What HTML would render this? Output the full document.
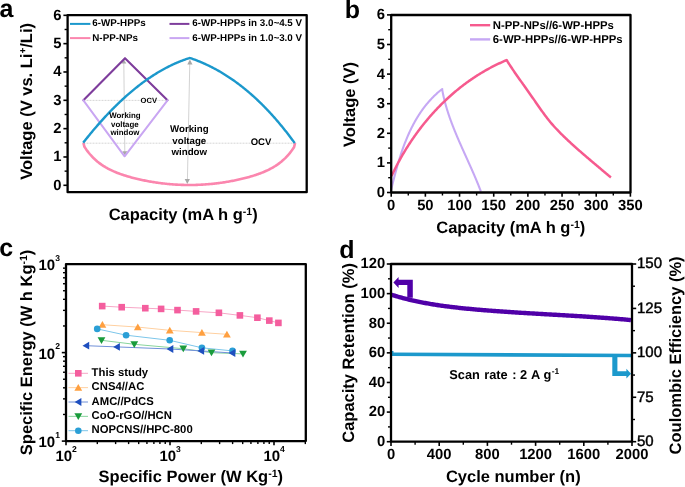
<!DOCTYPE html>
<html><head><meta charset="utf-8"><style>
html,body{margin:0;padding:0;background:#fff;width:685px;height:487px;overflow:hidden;}
svg{display:block;}
text{text-rendering:geometricPrecision;font-family:"Liberation Sans", sans-serif;}
</style></head><body><div style="will-change:transform;width:685px;height:487px;">
<svg width="685" height="487" viewBox="0 0 685 487"><text x="-0.50" y="16.70" font-family="&quot;Liberation Sans&quot;, sans-serif" font-weight="bold" font-size="25" text-anchor="start" fill="#000" >a</text>
<text x="344.80" y="18.20" font-family="&quot;Liberation Sans&quot;, sans-serif" font-weight="bold" font-size="25" text-anchor="start" fill="#000" >b</text>
<text x="-0.80" y="256.20" font-family="&quot;Liberation Sans&quot;, sans-serif" font-weight="bold" font-size="25" text-anchor="start" fill="#000" >c</text>
<text x="339.20" y="258.00" font-family="&quot;Liberation Sans&quot;, sans-serif" font-weight="bold" font-size="25" text-anchor="start" fill="#000" >d</text>
<line x1="63.40" y1="185.30" x2="67.60" y2="185.30" stroke="#000" stroke-width="1.6" />
<text x="61.40" y="189.60" font-family="&quot;Liberation Sans&quot;, sans-serif" font-weight="bold" font-size="14.8" text-anchor="end" fill="#000" >0</text>
<line x1="64.60" y1="171.14" x2="67.60" y2="171.14" stroke="#000" stroke-width="1.4" />
<line x1="63.40" y1="156.97" x2="67.60" y2="156.97" stroke="#000" stroke-width="1.6" />
<text x="61.40" y="161.27" font-family="&quot;Liberation Sans&quot;, sans-serif" font-weight="bold" font-size="14.8" text-anchor="end" fill="#000" >1</text>
<line x1="64.60" y1="142.81" x2="67.60" y2="142.81" stroke="#000" stroke-width="1.4" />
<line x1="63.40" y1="128.64" x2="67.60" y2="128.64" stroke="#000" stroke-width="1.6" />
<text x="61.40" y="132.94" font-family="&quot;Liberation Sans&quot;, sans-serif" font-weight="bold" font-size="14.8" text-anchor="end" fill="#000" >2</text>
<line x1="64.60" y1="114.48" x2="67.60" y2="114.48" stroke="#000" stroke-width="1.4" />
<line x1="63.40" y1="100.31" x2="67.60" y2="100.31" stroke="#000" stroke-width="1.6" />
<text x="61.40" y="104.61" font-family="&quot;Liberation Sans&quot;, sans-serif" font-weight="bold" font-size="14.8" text-anchor="end" fill="#000" >3</text>
<line x1="64.60" y1="86.15" x2="67.60" y2="86.15" stroke="#000" stroke-width="1.4" />
<line x1="63.40" y1="71.98" x2="67.60" y2="71.98" stroke="#000" stroke-width="1.6" />
<text x="61.40" y="76.28" font-family="&quot;Liberation Sans&quot;, sans-serif" font-weight="bold" font-size="14.8" text-anchor="end" fill="#000" >4</text>
<line x1="64.60" y1="57.82" x2="67.60" y2="57.82" stroke="#000" stroke-width="1.4" />
<line x1="63.40" y1="43.65" x2="67.60" y2="43.65" stroke="#000" stroke-width="1.6" />
<text x="61.40" y="47.95" font-family="&quot;Liberation Sans&quot;, sans-serif" font-weight="bold" font-size="14.8" text-anchor="end" fill="#000" >5</text>
<line x1="64.60" y1="29.49" x2="67.60" y2="29.49" stroke="#000" stroke-width="1.4" />
<line x1="63.40" y1="15.32" x2="67.60" y2="15.32" stroke="#000" stroke-width="1.6" />
<text x="61.40" y="19.62" font-family="&quot;Liberation Sans&quot;, sans-serif" font-weight="bold" font-size="14.8" text-anchor="end" fill="#000" >6</text>
<line x1="83.50" y1="100.40" x2="167.50" y2="100.40" stroke="#d0d0d0" stroke-width="0.9" stroke-dasharray="2,1"/>
<line x1="83.50" y1="143.20" x2="295.00" y2="143.20" stroke="#d0d0d0" stroke-width="0.9" stroke-dasharray="2,1"/>
<line x1="123.80" y1="62.00" x2="124.80" y2="152.00" stroke="#cdcdcd" stroke-width="0.9" />
<path d="M123.8,59.6 L121.3,63.6 L126.3,63.6 Z" fill="#a8a8a8"/>
<path d="M124.8,155.5 L122.3,151.3 L127.3,151.3 Z" fill="#a8a8a8"/>
<line x1="189.80" y1="62.00" x2="187.40" y2="181.00" stroke="#cdcdcd" stroke-width="0.9" />
<path d="M189.9,59.6 L187.3,64.6 L192.5,64.6 Z" fill="#a8a8a8"/>
<path d="M187.3,184 L184.7,179 L189.9,179 Z" fill="#a8a8a8"/>
<polyline points="83.40,100.30 125.00,58.20 167.50,100.30" fill="none" stroke="#7e3d9c" stroke-width="2.1" stroke-linejoin="round" stroke-linecap="round" />
<polyline points="83.40,100.30 124.60,156.30 167.50,100.30" fill="none" stroke="#c9a6f2" stroke-width="2.0" stroke-linejoin="round" stroke-linecap="round" />
<path d="M83.40,142.90 L84.46,146.80 L85.53,148.40 L86.59,149.92 L87.66,151.35 L88.72,152.72 L89.78,154.01 L90.85,155.24 L91.91,156.40 L92.97,157.51 L94.04,158.57 L95.10,159.57 L96.17,160.52 L97.23,161.43 L98.29,162.30 L99.36,163.12 L100.42,163.91 L101.48,164.67 L102.55,165.39 L103.61,166.07 L104.68,166.73 L105.74,167.37 L106.80,167.97 L107.87,168.55 L108.93,169.11 L110.00,169.65 L111.06,170.17 L112.12,170.67 L113.19,171.15 L114.25,171.61 L115.31,172.06 L116.38,172.50 L117.44,172.92 L118.51,173.32 L119.57,173.72 L120.63,174.10 L121.70,174.47 L122.76,174.83 L123.83,175.18 L124.89,175.52 L125.95,175.86 L127.02,176.18 L128.08,176.50 L129.14,176.80 L130.21,177.10 L131.27,177.39 L132.34,177.68 L133.40,177.96 L134.46,178.23 L135.53,178.50 L136.59,178.75 L137.65,179.01 L138.72,179.25 L139.78,179.50 L140.85,179.73 L141.91,179.96 L142.97,180.19 L144.04,180.40 L145.10,180.62 L146.17,180.83 L147.23,181.03 L148.29,181.23 L149.36,181.42 L150.42,181.61 L151.48,181.79 L152.55,181.97 L153.61,182.14 L154.68,182.31 L155.74,182.47 L156.80,182.62 L157.87,182.78 L158.93,182.92 L159.99,183.07 L161.06,183.20 L162.12,183.34 L163.19,183.46 L164.25,183.58 L165.31,183.70 L166.38,183.81 L167.44,183.92 L168.51,184.02 L169.57,184.12 L170.63,184.21 L171.70,184.30 L172.76,184.38 L173.82,184.46 L174.89,184.53 L175.95,184.59 L177.02,184.66 L178.08,184.71 L179.14,184.76 L180.21,184.81 L181.27,184.85 L182.34,184.89 L183.40,184.92 L184.46,184.95 L185.53,184.97 L186.59,184.98 L187.65,184.99 L188.72,185.00 L189.78,185.00 L190.85,185.00 L191.91,184.99 L192.97,184.97 L194.04,184.95 L195.10,184.93 L196.16,184.90 L197.23,184.86 L198.29,184.82 L199.36,184.78 L200.42,184.73 L201.48,184.67 L202.55,184.61 L203.61,184.55 L204.68,184.48 L205.74,184.40 L206.80,184.32 L207.87,184.24 L208.93,184.15 L209.99,184.05 L211.06,183.95 L212.12,183.84 L213.19,183.73 L214.25,183.62 L215.31,183.50 L216.38,183.37 L217.44,183.24 L218.51,183.11 L219.57,182.96 L220.63,182.82 L221.70,182.67 L222.76,182.51 L223.82,182.35 L224.89,182.19 L225.95,182.02 L227.02,181.84 L228.08,181.66 L229.14,181.47 L230.21,181.28 L231.27,181.09 L232.33,180.88 L233.40,180.68 L234.46,180.46 L235.53,180.25 L236.59,180.02 L237.65,179.80 L238.72,179.56 L239.78,179.32 L240.85,179.08 L241.91,178.83 L242.97,178.57 L244.04,178.31 L245.10,178.04 L246.16,177.76 L247.23,177.48 L248.29,177.19 L249.36,176.89 L250.42,176.58 L251.48,176.27 L252.55,175.95 L253.61,175.62 L254.67,175.28 L255.74,174.93 L256.80,174.57 L257.87,174.21 L258.93,173.83 L259.99,173.44 L261.06,173.03 L262.12,172.62 L263.19,172.19 L264.25,171.74 L265.31,171.28 L266.38,170.80 L267.44,170.31 L268.50,169.80 L269.57,169.27 L270.63,168.71 L271.70,168.14 L272.76,167.54 L273.82,166.91 L274.89,166.26 L275.95,165.58 L277.02,164.87 L278.08,164.13 L279.14,163.35 L280.21,162.53 L281.27,161.68 L282.33,160.78 L283.40,159.84 L284.46,158.85 L285.53,157.81 L286.59,156.72 L287.65,155.57 L288.72,154.36 L289.78,153.09 L290.84,151.74 L291.91,150.33 L292.97,148.84 L294.04,147.26 L295.10,142.90" fill="none" stroke="#fb86ae" stroke-width="2.6" stroke-linejoin="round"/>
<path d="M83.20,142.74 L84.09,141.60 L84.99,140.47 L85.88,139.35 L86.77,138.23 L87.67,137.12 L88.56,136.01 L89.45,134.92 L90.35,133.83 L91.24,132.75 L92.13,131.67 L93.03,130.60 L93.92,129.54 L94.81,128.49 L95.71,127.45 L96.60,126.41 L97.49,125.38 L98.39,124.35 L99.28,123.34 L100.17,122.33 L101.07,121.33 L101.96,120.33 L102.85,119.34 L103.75,118.36 L104.64,117.39 L105.53,116.42 L106.43,115.47 L107.32,114.51 L108.21,113.57 L109.11,112.63 L110.00,111.70 L110.89,110.78 L111.78,109.87 L112.68,108.96 L113.57,108.06 L114.46,107.17 L115.36,106.28 L116.25,105.40 L117.14,104.53 L118.04,103.67 L118.93,102.81 L119.82,101.96 L120.72,101.12 L121.61,100.28 L122.50,99.45 L123.40,98.63 L124.29,97.82 L125.18,97.01 L126.08,96.21 L126.97,95.42 L127.86,94.64 L128.76,93.86 L129.65,93.09 L130.54,92.33 L131.44,91.57 L132.33,90.83 L133.22,90.08 L134.12,89.35 L135.01,88.62 L135.90,87.91 L136.80,87.19 L137.69,86.49 L138.58,85.79 L139.48,85.10 L140.37,84.42 L141.26,83.74 L142.16,83.07 L143.05,82.41 L143.94,81.76 L144.84,81.11 L145.73,80.47 L146.62,79.84 L147.52,79.22 L148.41,78.60 L149.30,77.99 L150.20,77.39 L151.09,76.79 L151.98,76.20 L152.88,75.62 L153.77,75.05 L154.66,74.48 L155.56,73.92 L156.45,73.37 L157.34,72.82 L158.24,72.29 L159.13,71.75 L160.02,71.23 L160.92,70.72 L161.81,70.21 L162.70,69.71 L163.59,69.21 L164.49,68.72 L165.38,68.24 L166.27,67.77 L167.17,67.31 L168.06,66.85 L168.95,66.40 L169.85,65.95 L170.74,65.52 L171.63,65.09 L172.53,64.67 L173.42,64.25 L174.31,63.85 L175.21,63.45 L176.10,63.05 L176.99,62.67 L177.89,62.29 L178.78,61.92 L179.67,61.56 L180.57,61.20 L181.46,60.85 L182.35,60.51 L183.25,60.17 L184.14,59.85 L185.03,59.53 L185.93,59.21 L186.82,58.91 L187.71,58.61 L188.61,58.32 L189.50,58.03 L190.29,58.09 L191.18,58.39 L192.07,58.70 L192.95,59.02 L193.83,59.34 L194.71,59.66 L195.58,59.99 L196.46,60.33 L197.33,60.67 L198.19,61.01 L199.06,61.36 L199.92,61.72 L200.78,62.07 L201.63,62.44 L202.49,62.81 L203.34,63.18 L204.19,63.56 L205.03,63.94 L205.88,64.33 L206.72,64.72 L207.56,65.11 L208.39,65.51 L209.22,65.92 L210.05,66.33 L210.88,66.74 L211.71,67.16 L212.53,67.58 L213.35,68.01 L214.17,68.44 L214.98,68.88 L215.79,69.32 L216.60,69.76 L217.41,70.21 L218.21,70.66 L219.01,71.12 L219.81,71.58 L220.61,72.04 L221.40,72.51 L222.19,72.98 L222.98,73.46 L223.77,73.94 L224.55,74.43 L225.33,74.92 L226.11,75.41 L226.89,75.91 L227.66,76.41 L228.43,76.91 L229.20,77.42 L229.97,77.93 L230.73,78.44 L231.49,78.96 L232.25,79.49 L233.01,80.01 L233.76,80.54 L234.51,81.08 L235.26,81.61 L236.01,82.15 L236.75,82.70 L237.49,83.24 L238.23,83.80 L238.97,84.35 L239.70,84.91 L240.43,85.47 L241.16,86.03 L241.89,86.60 L242.61,87.17 L243.34,87.75 L244.06,88.32 L244.77,88.90 L245.49,89.49 L246.20,90.07 L246.91,90.66 L247.62,91.26 L248.32,91.85 L249.02,92.45 L249.72,93.05 L250.42,93.66 L251.12,94.27 L251.81,94.88 L252.50,95.49 L253.19,96.11 L253.88,96.73 L254.56,97.35 L255.24,97.97 L255.92,98.60 L256.60,99.23 L257.27,99.87 L257.95,100.50 L258.62,101.14 L259.28,101.78 L259.95,102.42 L260.61,103.07 L261.27,103.72 L261.93,104.37 L262.59,105.02 L263.24,105.68 L263.89,106.33 L264.54,107.00 L265.19,107.66 L265.83,108.32 L266.48,108.99 L267.12,109.66 L267.75,110.33 L268.39,111.01 L269.02,111.68 L269.66,112.36 L270.28,113.04 L270.91,113.72 L271.54,114.41 L272.16,115.09 L272.78,115.78 L273.40,116.47 L274.01,117.16 L274.63,117.86 L275.24,118.55 L275.85,119.25 L276.45,119.95 L277.06,120.65 L277.66,121.36 L278.26,122.06 L278.86,122.77 L279.46,123.48 L280.05,124.19 L280.64,124.90 L281.23,125.61 L281.82,126.33 L282.41,127.04 L282.99,127.76 L283.57,128.48 L284.15,129.20 L284.73,129.92 L285.30,130.65 L285.88,131.37 L286.45,132.10 L287.02,132.82 L287.58,133.55 L288.15,134.28 L288.71,135.01 L289.27,135.75 L289.83,136.48 L290.38,137.21 L290.94,137.95 L291.49,138.69 L292.04,139.43 L292.59,140.16 L293.14,140.90 L293.68,141.65 L294.22,142.39 L294.76,143.13" fill="none" stroke="#1b98cc" stroke-width="2.4" stroke-linejoin="round"/>
<text x="148.80" y="102.80" font-family="&quot;Liberation Sans&quot;, sans-serif" font-weight="bold" font-size="7.6" text-anchor="middle" fill="#000" >OCV</text>
<text x="124.90" y="117.80" font-family="&quot;Liberation Sans&quot;, sans-serif" font-weight="bold" font-size="7.9" text-anchor="middle" fill="#000" >Working</text>
<text x="124.90" y="126.60" font-family="&quot;Liberation Sans&quot;, sans-serif" font-weight="bold" font-size="7.9" text-anchor="middle" fill="#000" >voltage</text>
<text x="124.90" y="135.20" font-family="&quot;Liberation Sans&quot;, sans-serif" font-weight="bold" font-size="7.9" text-anchor="middle" fill="#000" >window</text>
<text x="189.30" y="131.80" font-family="&quot;Liberation Sans&quot;, sans-serif" font-weight="bold" font-size="9.7" text-anchor="middle" fill="#000" >Working</text>
<text x="189.30" y="143.50" font-family="&quot;Liberation Sans&quot;, sans-serif" font-weight="bold" font-size="9.7" text-anchor="middle" fill="#000" >voltage</text>
<text x="189.30" y="155.20" font-family="&quot;Liberation Sans&quot;, sans-serif" font-weight="bold" font-size="9.7" text-anchor="middle" fill="#000" >window</text>
<text x="261.00" y="145.40" font-family="&quot;Liberation Sans&quot;, sans-serif" font-weight="bold" font-size="9.5" text-anchor="middle" fill="#000" >OCV</text>
<line x1="70.00" y1="23.90" x2="90.40" y2="23.90" stroke="#1b98cc" stroke-width="2" />
<text x="92.30" y="26.20" font-family="&quot;Liberation Sans&quot;, sans-serif" font-weight="bold" font-size="9.8" text-anchor="start" fill="#000" >6-WP-HPPs</text>
<line x1="70.00" y1="38.10" x2="90.40" y2="38.10" stroke="#fb86ae" stroke-width="2" />
<text x="92.30" y="40.90" font-family="&quot;Liberation Sans&quot;, sans-serif" font-weight="bold" font-size="9.8" text-anchor="start" fill="#000" >N-PP-NPs</text>
<line x1="169.50" y1="23.90" x2="189.40" y2="23.90" stroke="#7e3d9c" stroke-width="2" />
<text x="192.30" y="26.20" font-family="&quot;Liberation Sans&quot;, sans-serif" font-weight="bold" font-size="9.8" text-anchor="start" fill="#000" >6-WP-HPPs in 3.0~4.5 V</text>
<line x1="169.50" y1="38.10" x2="189.40" y2="38.10" stroke="#c9a6f2" stroke-width="2" />
<text x="192.30" y="40.90" font-family="&quot;Liberation Sans&quot;, sans-serif" font-weight="bold" font-size="9.8" text-anchor="start" fill="#000" >6-WP-HPPs in 1.0~3.0 V</text>
<rect x="67.60" y="15.10" width="239.10" height="177.10" fill="none" stroke="#000" stroke-width="2.3" stroke-linejoin="round"/>
<text x="183.20" y="220.30" font-family="&quot;Liberation Sans&quot;, sans-serif" font-weight="bold" font-size="16.5" text-anchor="middle" fill="#000" >Capacity (mA h g<tspan dy="-5.5" font-size="10.5">-1</tspan><tspan dy="5.5">)</tspan></text>
<text transform="translate(31.8,101.4) rotate(-90)" font-family="&quot;Liberation Sans&quot;, sans-serif" font-weight="bold" font-size="16.5" text-anchor="middle">Voltage (V vs. Li<tspan dy="-6" font-size="10">+</tspan><tspan dy="6">/Li)</tspan></text>
<line x1="387.00" y1="192.50" x2="391.20" y2="192.50" stroke="#000" stroke-width="1.6" />
<text x="385.00" y="196.90" font-family="&quot;Liberation Sans&quot;, sans-serif" font-weight="bold" font-size="14.8" text-anchor="end" fill="#000" >0</text>
<line x1="388.20" y1="177.70" x2="391.20" y2="177.70" stroke="#000" stroke-width="1.4" />
<line x1="387.00" y1="162.90" x2="391.20" y2="162.90" stroke="#000" stroke-width="1.6" />
<text x="385.00" y="167.30" font-family="&quot;Liberation Sans&quot;, sans-serif" font-weight="bold" font-size="14.8" text-anchor="end" fill="#000" >1</text>
<line x1="388.20" y1="148.10" x2="391.20" y2="148.10" stroke="#000" stroke-width="1.4" />
<line x1="387.00" y1="133.30" x2="391.20" y2="133.30" stroke="#000" stroke-width="1.6" />
<text x="385.00" y="137.70" font-family="&quot;Liberation Sans&quot;, sans-serif" font-weight="bold" font-size="14.8" text-anchor="end" fill="#000" >2</text>
<line x1="388.20" y1="118.50" x2="391.20" y2="118.50" stroke="#000" stroke-width="1.4" />
<line x1="387.00" y1="103.70" x2="391.20" y2="103.70" stroke="#000" stroke-width="1.6" />
<text x="385.00" y="108.10" font-family="&quot;Liberation Sans&quot;, sans-serif" font-weight="bold" font-size="14.8" text-anchor="end" fill="#000" >3</text>
<line x1="388.20" y1="88.90" x2="391.20" y2="88.90" stroke="#000" stroke-width="1.4" />
<line x1="387.00" y1="74.10" x2="391.20" y2="74.10" stroke="#000" stroke-width="1.6" />
<text x="385.00" y="78.50" font-family="&quot;Liberation Sans&quot;, sans-serif" font-weight="bold" font-size="14.8" text-anchor="end" fill="#000" >4</text>
<line x1="388.20" y1="59.30" x2="391.20" y2="59.30" stroke="#000" stroke-width="1.4" />
<line x1="387.00" y1="44.50" x2="391.20" y2="44.50" stroke="#000" stroke-width="1.6" />
<text x="385.00" y="48.90" font-family="&quot;Liberation Sans&quot;, sans-serif" font-weight="bold" font-size="14.8" text-anchor="end" fill="#000" >5</text>
<line x1="388.20" y1="29.70" x2="391.20" y2="29.70" stroke="#000" stroke-width="1.4" />
<line x1="387.00" y1="14.90" x2="391.20" y2="14.90" stroke="#000" stroke-width="1.6" />
<text x="385.00" y="19.30" font-family="&quot;Liberation Sans&quot;, sans-serif" font-weight="bold" font-size="14.8" text-anchor="end" fill="#000" >6</text>
<line x1="391.20" y1="192.50" x2="391.20" y2="196.70" stroke="#000" stroke-width="1.6" />
<text x="391.20" y="210.30" font-family="&quot;Liberation Sans&quot;, sans-serif" font-weight="bold" font-size="14.8" text-anchor="middle" fill="#000" >0</text>
<line x1="408.28" y1="192.50" x2="408.28" y2="195.50" stroke="#000" stroke-width="1.4" />
<line x1="425.37" y1="192.50" x2="425.37" y2="196.70" stroke="#000" stroke-width="1.6" />
<text x="425.37" y="210.30" font-family="&quot;Liberation Sans&quot;, sans-serif" font-weight="bold" font-size="14.8" text-anchor="middle" fill="#000" >50</text>
<line x1="442.45" y1="192.50" x2="442.45" y2="195.50" stroke="#000" stroke-width="1.4" />
<line x1="459.54" y1="192.50" x2="459.54" y2="196.70" stroke="#000" stroke-width="1.6" />
<text x="459.54" y="210.30" font-family="&quot;Liberation Sans&quot;, sans-serif" font-weight="bold" font-size="14.8" text-anchor="middle" fill="#000" >100</text>
<line x1="476.62" y1="192.50" x2="476.62" y2="195.50" stroke="#000" stroke-width="1.4" />
<line x1="493.71" y1="192.50" x2="493.71" y2="196.70" stroke="#000" stroke-width="1.6" />
<text x="493.71" y="210.30" font-family="&quot;Liberation Sans&quot;, sans-serif" font-weight="bold" font-size="14.8" text-anchor="middle" fill="#000" >150</text>
<line x1="510.79" y1="192.50" x2="510.79" y2="195.50" stroke="#000" stroke-width="1.4" />
<line x1="527.88" y1="192.50" x2="527.88" y2="196.70" stroke="#000" stroke-width="1.6" />
<text x="527.88" y="210.30" font-family="&quot;Liberation Sans&quot;, sans-serif" font-weight="bold" font-size="14.8" text-anchor="middle" fill="#000" >200</text>
<line x1="544.97" y1="192.50" x2="544.97" y2="195.50" stroke="#000" stroke-width="1.4" />
<line x1="562.05" y1="192.50" x2="562.05" y2="196.70" stroke="#000" stroke-width="1.6" />
<text x="562.05" y="210.30" font-family="&quot;Liberation Sans&quot;, sans-serif" font-weight="bold" font-size="14.8" text-anchor="middle" fill="#000" >250</text>
<line x1="579.13" y1="192.50" x2="579.13" y2="195.50" stroke="#000" stroke-width="1.4" />
<line x1="596.22" y1="192.50" x2="596.22" y2="196.70" stroke="#000" stroke-width="1.6" />
<text x="596.22" y="210.30" font-family="&quot;Liberation Sans&quot;, sans-serif" font-weight="bold" font-size="14.8" text-anchor="middle" fill="#000" >300</text>
<line x1="613.30" y1="192.50" x2="613.30" y2="195.50" stroke="#000" stroke-width="1.4" />
<line x1="630.39" y1="192.50" x2="630.39" y2="196.70" stroke="#000" stroke-width="1.6" />
<text x="630.39" y="210.30" font-family="&quot;Liberation Sans&quot;, sans-serif" font-weight="bold" font-size="14.8" text-anchor="middle" fill="#000" >350</text>
<path d="M390.66,191.76 L390.84,191.02 L391.02,190.28 L391.20,189.53 L391.38,188.78 L391.56,188.04 L391.74,187.29 L391.93,186.54 L392.11,185.79 L392.29,185.04 L392.48,184.28 L392.67,183.53 L392.85,182.78 L393.04,182.02 L393.23,181.27 L393.42,180.51 L393.61,179.76 L393.81,179.00 L394.00,178.24 L394.19,177.48 L394.39,176.72 L394.59,175.97 L394.79,175.21 L394.99,174.45 L395.19,173.69 L395.39,172.93 L395.60,172.17 L395.80,171.41 L396.01,170.64 L396.22,169.88 L396.43,169.12 L396.64,168.36 L396.85,167.60 L397.07,166.84 L397.28,166.08 L397.50,165.32 L397.72,164.56 L397.94,163.80 L398.17,163.04 L398.39,162.28 L398.62,161.52 L398.85,160.76 L399.08,160.00 L399.31,159.24 L399.55,158.48 L399.79,157.73 L400.03,156.97 L400.27,156.21 L400.51,155.46 L400.76,154.70 L401.01,153.95 L401.26,153.19 L401.51,152.44 L401.76,151.69 L402.02,150.94 L402.28,150.19 L402.54,149.44 L402.81,148.69 L403.08,147.94 L403.35,147.19 L403.62,146.45 L403.89,145.70 L404.17,144.96 L404.45,144.22 L404.73,143.48 L405.02,142.74 L405.31,142.00 L405.60,141.26 L405.89,140.53 L406.19,139.79 L406.49,139.06 L406.79,138.33 L407.10,137.60 L407.41,136.87 L407.72,136.15 L408.03,135.42 L408.35,134.70 L408.67,133.98 L409.00,133.26 L409.32,132.54 L409.65,131.82 L409.99,131.11 L410.32,130.40 L410.66,129.69 L411.01,128.98 L411.36,128.27 L411.71,127.57 L412.06,126.86 L412.42,126.16 L412.78,125.47 L413.14,124.77 L413.51,124.08 L413.89,123.38 L414.26,122.70 L414.64,122.01 L415.02,121.33 L415.41,120.64 L415.80,119.96 L416.20,119.29 L416.60,118.61 L417.00,117.94 L417.40,117.27 L417.81,116.61 L418.23,115.94 L418.65,115.28 L419.07,114.62 L419.50,113.97 L419.93,113.32 L420.36,112.67 L420.80,112.02 L421.25,111.38 L421.69,110.74 L422.15,110.10 L422.60,109.46 L423.06,108.83 L423.53,108.20 L424.00,107.58 L424.47,106.96 L424.95,106.34 L425.43,105.72 L425.92,105.11 L426.41,104.50 L426.91,103.90 L427.41,103.30 L427.92,102.70 L428.43,102.10 L428.95,101.51 L429.47,100.93 L429.99,100.34 L430.53,99.76 L431.06,99.18 L431.60,98.61 L432.15,98.04 L432.70,97.48 L433.25,96.92 L433.81,96.36 L434.38,95.81 L434.95,95.26 L435.53,94.71 L436.11,94.17 L436.70,93.64 L437.29,93.10 L437.89,92.57 L438.49,92.05 L439.10,91.53 L439.71,91.01 L440.33,90.50 L440.96,89.99 L441.59,89.49 L442.22,88.99 L442.25,89.95 L442.38,90.67 L442.52,91.40 L442.66,92.12 L442.80,92.84 L442.95,93.56 L443.10,94.28 L443.25,95.00 L443.40,95.72 L443.56,96.43 L443.73,97.15 L443.89,97.86 L444.06,98.58 L444.23,99.29 L444.41,100.00 L444.59,100.71 L444.77,101.42 L444.95,102.13 L445.14,102.84 L445.33,103.55 L445.52,104.25 L445.72,104.96 L445.92,105.66 L446.12,106.37 L446.32,107.07 L446.53,107.77 L446.74,108.48 L446.95,109.18 L447.17,109.88 L447.39,110.58 L447.61,111.28 L447.83,111.98 L448.05,112.67 L448.28,113.37 L448.51,114.07 L448.74,114.76 L448.98,115.46 L449.22,116.15 L449.45,116.84 L449.70,117.54 L449.94,118.23 L450.18,118.92 L450.43,119.61 L450.68,120.30 L450.93,120.99 L451.19,121.68 L451.44,122.37 L451.70,123.06 L451.96,123.75 L452.22,124.43 L452.48,125.12 L452.75,125.81 L453.01,126.49 L453.28,127.18 L453.55,127.86 L453.82,128.54 L454.09,129.23 L454.37,129.91 L454.64,130.59 L454.92,131.28 L455.20,131.96 L455.48,132.64 L455.76,133.32 L456.04,134.00 L456.33,134.68 L456.61,135.36 L456.90,136.04 L457.19,136.72 L457.48,137.40 L457.77,138.08 L458.06,138.76 L458.35,139.43 L458.64,140.11 L458.93,140.79 L459.23,141.47 L459.52,142.14 L459.82,142.82 L460.12,143.50 L460.42,144.17 L460.71,144.85 L461.01,145.52 L461.31,146.20 L461.61,146.87 L461.91,147.55 L462.21,148.22 L462.52,148.90 L462.82,149.57 L463.12,150.25 L463.42,150.92 L463.73,151.60 L464.03,152.27 L464.34,152.94 L464.64,153.62 L464.94,154.29 L465.25,154.97 L465.55,155.64 L465.86,156.31 L466.16,156.99 L466.47,157.66 L466.77,158.33 L467.08,159.01 L467.38,159.68 L467.69,160.35 L467.99,161.03 L468.29,161.70 L468.60,162.37 L468.90,163.05 L469.20,163.72 L469.51,164.40 L469.81,165.07 L470.11,165.74 L470.41,166.42 L470.71,167.09 L471.01,167.77 L471.31,168.44 L471.61,169.12 L471.91,169.79 L472.21,170.47 L472.51,171.14 L472.80,171.82 L473.10,172.49 L473.39,173.17 L473.69,173.84 L473.98,174.52 L474.27,175.20 L474.56,175.87 L474.85,176.55 L475.14,177.23 L475.43,177.90 L475.71,178.58 L476.00,179.26 L476.28,179.94 L476.56,180.62 L476.85,181.30 L477.13,181.98 L477.40,182.66 L477.68,183.34 L477.96,184.02 L478.23,184.70 L478.51,185.38 L478.78,186.06 L479.05,186.74 L479.31,187.42 L479.58,188.11 L479.85,188.79 L480.11,189.47 L480.37,190.16 L480.63,190.84 L480.89,191.53" fill="none" stroke="#c6a8f4" stroke-width="2.1" stroke-linejoin="round"/>
<path d="M391.54,175.99 L392.01,174.98 L392.49,173.97 L392.97,172.97 L393.45,171.96 L393.94,170.96 L394.43,169.96 L394.93,168.96 L395.44,167.97 L395.94,166.97 L396.45,165.98 L396.97,164.99 L397.49,164.00 L398.02,163.01 L398.55,162.03 L399.08,161.04 L399.62,160.06 L400.16,159.08 L400.71,158.11 L401.26,157.13 L401.82,156.16 L402.38,155.19 L402.94,154.22 L403.51,153.25 L404.08,152.29 L404.66,151.33 L405.24,150.37 L405.83,149.41 L406.42,148.46 L407.02,147.50 L407.62,146.55 L408.22,145.61 L408.83,144.66 L409.44,143.72 L410.06,142.78 L410.68,141.84 L411.30,140.91 L411.93,139.97 L412.57,139.05 L413.21,138.12 L413.85,137.20 L414.49,136.27 L415.14,135.36 L415.80,134.44 L416.46,133.53 L417.12,132.62 L417.79,131.71 L418.46,130.81 L419.13,129.91 L419.81,129.01 L420.50,128.12 L421.18,127.23 L421.88,126.34 L422.57,125.45 L423.27,124.57 L423.97,123.69 L424.68,122.82 L425.39,121.95 L426.11,121.08 L426.83,120.21 L427.55,119.35 L428.28,118.49 L429.01,117.64 L429.75,116.78 L430.49,115.94 L431.23,115.09 L431.98,114.25 L432.73,113.41 L433.49,112.58 L434.25,111.75 L435.01,110.92 L435.78,110.10 L436.55,109.28 L437.32,108.47 L438.10,107.66 L438.88,106.85 L439.67,106.05 L440.46,105.25 L441.25,104.45 L442.05,103.66 L442.85,102.87 L443.66,102.09 L444.47,101.31 L445.28,100.54 L446.10,99.77 L446.92,99.00 L447.74,98.24 L448.57,97.48 L449.40,96.72 L450.24,95.97 L451.07,95.23 L451.92,94.49 L452.76,93.75 L453.61,93.02 L454.47,92.29 L455.32,91.57 L456.18,90.85 L457.05,90.14 L457.92,89.43 L458.79,88.72 L459.66,88.02 L460.54,87.33 L461.42,86.63 L462.31,85.95 L463.20,85.27 L464.09,84.59 L464.99,83.92 L465.89,83.25 L466.79,82.59 L467.70,81.93 L468.61,81.28 L469.52,80.64 L470.44,79.99 L471.36,79.36 L472.28,78.73 L473.21,78.10 L474.14,77.48 L475.08,76.86 L476.02,76.25 L476.96,75.64 L477.90,75.04 L478.85,74.45 L479.80,73.86 L480.76,73.28 L481.71,72.70 L482.67,72.12 L483.64,71.55 L484.61,70.99 L485.58,70.44 L486.55,69.88 L487.53,69.34 L488.51,68.80 L489.50,68.26 L490.48,67.74 L491.47,67.21 L492.47,66.69 L493.47,66.18 L494.47,65.68 L495.47,65.18 L496.48,64.68 L497.49,64.20 L498.50,63.71 L499.52,63.24 L500.53,62.77 L501.56,62.30 L502.58,61.85 L503.61,61.39 L504.64,60.95 L505.68,60.51 L506.72,60.08 L507.60,61.68 L508.30,62.76 L508.99,63.83 L509.69,64.90 L510.39,65.96 L511.09,67.01 L511.79,68.06 L512.48,69.10 L513.18,70.14 L513.88,71.17 L514.58,72.19 L515.28,73.21 L515.97,74.21 L516.67,75.21 L517.37,76.21 L518.07,77.20 L518.77,78.18 L519.46,79.17 L520.16,80.15 L520.86,81.13 L521.56,82.12 L522.26,83.10 L522.95,84.09 L523.65,85.08 L524.35,86.07 L525.05,87.06 L525.75,88.05 L526.44,89.03 L527.14,90.02 L527.84,91.00 L528.54,91.99 L529.24,92.97 L529.93,93.96 L530.63,94.95 L531.33,95.93 L532.03,96.92 L532.73,97.91 L533.42,98.91 L534.12,99.90 L534.82,100.91 L535.52,101.92 L536.22,102.93 L536.91,103.95 L537.61,104.96 L538.31,105.98 L539.01,106.99 L539.71,107.99 L540.40,108.98 L541.10,109.96 L541.80,110.93 L542.50,111.88 L543.20,112.83 L543.89,113.78 L544.59,114.72 L545.29,115.66 L545.99,116.58 L546.69,117.50 L547.38,118.41 L548.08,119.31 L548.78,120.20 L549.48,121.07 L550.18,121.93 L550.87,122.77 L551.57,123.59 L552.27,124.40 L552.97,125.19 L553.67,125.98 L554.36,126.74 L555.06,127.50 L555.76,128.25 L556.46,129.00 L557.16,129.73 L557.85,130.46 L558.55,131.19 L559.25,131.91 L559.95,132.62 L560.64,133.32 L561.34,134.02 L562.04,134.71 L562.74,135.39 L563.44,136.08 L564.13,136.75 L564.83,137.43 L565.53,138.10 L566.23,138.76 L566.93,139.43 L567.62,140.09 L568.32,140.74 L569.02,141.39 L569.72,142.04 L570.42,142.68 L571.11,143.32 L571.81,143.96 L572.51,144.59 L573.21,145.22 L573.91,145.85 L574.60,146.48 L575.30,147.10 L576.00,147.72 L576.70,148.34 L577.40,148.96 L578.09,149.58 L578.79,150.20 L579.49,150.82 L580.19,151.43 L580.89,152.04 L581.58,152.64 L582.28,153.25 L582.98,153.85 L583.68,154.46 L584.38,155.06 L585.07,155.66 L585.77,156.25 L586.47,156.85 L587.17,157.45 L587.87,158.05 L588.56,158.64 L589.26,159.24 L589.96,159.83 L590.66,160.43 L591.36,161.02 L592.05,161.61 L592.75,162.20 L593.45,162.79 L594.15,163.38 L594.85,163.96 L595.54,164.55 L596.24,165.14 L596.94,165.72 L597.64,166.31 L598.34,166.90 L599.03,167.49 L599.73,168.07 L600.43,168.66 L601.13,169.25 L601.83,169.84 L602.52,170.43 L603.22,171.02 L603.92,171.61 L604.62,172.20 L605.32,172.79 L606.01,173.38 L606.71,173.97 L607.41,174.55 L608.11,175.14 L608.81,175.73 L609.50,176.32 L610.20,176.91 L610.90,177.50" fill="none" stroke="#f65a8e" stroke-width="2.5" stroke-linejoin="round"/>
<line x1="470.00" y1="25.20" x2="490.20" y2="25.20" stroke="#f65a8e" stroke-width="2.4" />
<text x="492.80" y="29.10" font-family="&quot;Liberation Sans&quot;, sans-serif" font-weight="bold" font-size="11.35" text-anchor="start" fill="#000" >N-PP-NPs//6-WP-HPPs</text>
<line x1="470.00" y1="39.40" x2="490.20" y2="39.40" stroke="#c6a8f4" stroke-width="2.4" />
<text x="492.80" y="43.30" font-family="&quot;Liberation Sans&quot;, sans-serif" font-weight="bold" font-size="11.35" text-anchor="start" fill="#000" >6-WP-HPPs//6-WP-HPPs</text>
<rect x="391.20" y="15.00" width="239.30" height="177.50" fill="none" stroke="#000" stroke-width="2.3" stroke-linejoin="round"/>
<text x="510.79" y="233.00" font-family="&quot;Liberation Sans&quot;, sans-serif" font-weight="bold" font-size="16.5" text-anchor="middle" fill="#000" >Capacity (mA h g<tspan dy="-5.5" font-size="10.5">-1</tspan><tspan dy="5.5">)</tspan></text>
<text transform="translate(355.3,104.5) rotate(-90)" font-family="&quot;Liberation Sans&quot;, sans-serif" font-weight="bold" font-size="16.5" text-anchor="middle">Voltage (V)</text>
<line x1="61.80" y1="441.10" x2="66.00" y2="441.10" stroke="#000" stroke-width="1.6" />
<line x1="63.00" y1="414.46" x2="66.00" y2="414.46" stroke="#000" stroke-width="1.4" />
<line x1="63.00" y1="398.87" x2="66.00" y2="398.87" stroke="#000" stroke-width="1.4" />
<line x1="63.00" y1="387.82" x2="66.00" y2="387.82" stroke="#000" stroke-width="1.4" />
<line x1="63.00" y1="379.24" x2="66.00" y2="379.24" stroke="#000" stroke-width="1.4" />
<line x1="63.00" y1="372.23" x2="66.00" y2="372.23" stroke="#000" stroke-width="1.4" />
<line x1="63.00" y1="366.31" x2="66.00" y2="366.31" stroke="#000" stroke-width="1.4" />
<line x1="63.00" y1="361.18" x2="66.00" y2="361.18" stroke="#000" stroke-width="1.4" />
<line x1="63.00" y1="356.65" x2="66.00" y2="356.65" stroke="#000" stroke-width="1.4" />
<line x1="61.80" y1="352.60" x2="66.00" y2="352.60" stroke="#000" stroke-width="1.6" />
<line x1="63.00" y1="325.96" x2="66.00" y2="325.96" stroke="#000" stroke-width="1.4" />
<line x1="63.00" y1="310.37" x2="66.00" y2="310.37" stroke="#000" stroke-width="1.4" />
<line x1="63.00" y1="299.32" x2="66.00" y2="299.32" stroke="#000" stroke-width="1.4" />
<line x1="63.00" y1="290.74" x2="66.00" y2="290.74" stroke="#000" stroke-width="1.4" />
<line x1="63.00" y1="283.73" x2="66.00" y2="283.73" stroke="#000" stroke-width="1.4" />
<line x1="63.00" y1="277.81" x2="66.00" y2="277.81" stroke="#000" stroke-width="1.4" />
<line x1="63.00" y1="272.68" x2="66.00" y2="272.68" stroke="#000" stroke-width="1.4" />
<line x1="63.00" y1="268.15" x2="66.00" y2="268.15" stroke="#000" stroke-width="1.4" />
<line x1="66.00" y1="441.10" x2="66.00" y2="445.30" stroke="#000" stroke-width="1.6" />
<line x1="97.31" y1="441.10" x2="97.31" y2="444.10" stroke="#000" stroke-width="1.4" />
<line x1="115.62" y1="441.10" x2="115.62" y2="444.10" stroke="#000" stroke-width="1.4" />
<line x1="128.61" y1="441.10" x2="128.61" y2="444.10" stroke="#000" stroke-width="1.4" />
<line x1="138.69" y1="441.10" x2="138.69" y2="444.10" stroke="#000" stroke-width="1.4" />
<line x1="146.93" y1="441.10" x2="146.93" y2="444.10" stroke="#000" stroke-width="1.4" />
<line x1="153.89" y1="441.10" x2="153.89" y2="444.10" stroke="#000" stroke-width="1.4" />
<line x1="159.92" y1="441.10" x2="159.92" y2="444.10" stroke="#000" stroke-width="1.4" />
<line x1="165.24" y1="441.10" x2="165.24" y2="444.10" stroke="#000" stroke-width="1.4" />
<line x1="170.00" y1="441.10" x2="170.00" y2="445.30" stroke="#000" stroke-width="1.6" />
<line x1="201.31" y1="441.10" x2="201.31" y2="444.10" stroke="#000" stroke-width="1.4" />
<line x1="219.62" y1="441.10" x2="219.62" y2="444.10" stroke="#000" stroke-width="1.4" />
<line x1="232.61" y1="441.10" x2="232.61" y2="444.10" stroke="#000" stroke-width="1.4" />
<line x1="242.69" y1="441.10" x2="242.69" y2="444.10" stroke="#000" stroke-width="1.4" />
<line x1="250.93" y1="441.10" x2="250.93" y2="444.10" stroke="#000" stroke-width="1.4" />
<line x1="257.89" y1="441.10" x2="257.89" y2="444.10" stroke="#000" stroke-width="1.4" />
<line x1="263.92" y1="441.10" x2="263.92" y2="444.10" stroke="#000" stroke-width="1.4" />
<line x1="269.24" y1="441.10" x2="269.24" y2="444.10" stroke="#000" stroke-width="1.4" />
<line x1="274.00" y1="441.10" x2="274.00" y2="445.30" stroke="#000" stroke-width="1.6" />
<line x1="305.31" y1="441.10" x2="305.31" y2="444.10" stroke="#000" stroke-width="1.4" />
<text x="38.52" y="270.10" font-family="&quot;Liberation Sans&quot;, sans-serif" font-weight="bold" font-size="15.0">10</text>
<text x="55.20" y="260.70" font-family="&quot;Liberation Sans&quot;, sans-serif" font-weight="bold" font-size="8.6">3</text>
<text x="38.52" y="358.60" font-family="&quot;Liberation Sans&quot;, sans-serif" font-weight="bold" font-size="15.0">10</text>
<text x="55.20" y="349.20" font-family="&quot;Liberation Sans&quot;, sans-serif" font-weight="bold" font-size="8.6">2</text>
<text x="38.52" y="447.10" font-family="&quot;Liberation Sans&quot;, sans-serif" font-weight="bold" font-size="15.0">10</text>
<text x="55.20" y="437.70" font-family="&quot;Liberation Sans&quot;, sans-serif" font-weight="bold" font-size="8.6">1</text>
<text x="55.40" y="461.10" font-family="&quot;Liberation Sans&quot;, sans-serif" font-weight="bold" font-size="15.0">10</text>
<text x="72.08" y="451.70" font-family="&quot;Liberation Sans&quot;, sans-serif" font-weight="bold" font-size="8.6">2</text>
<text x="159.40" y="461.10" font-family="&quot;Liberation Sans&quot;, sans-serif" font-weight="bold" font-size="15.0">10</text>
<text x="176.08" y="451.70" font-family="&quot;Liberation Sans&quot;, sans-serif" font-weight="bold" font-size="8.6">3</text>
<text x="263.40" y="461.10" font-family="&quot;Liberation Sans&quot;, sans-serif" font-weight="bold" font-size="15.0">10</text>
<text x="280.08" y="451.70" font-family="&quot;Liberation Sans&quot;, sans-serif" font-weight="bold" font-size="8.6">4</text>
<polyline points="102.20,306.10 121.70,307.20 145.30,308.20 161.10,308.90 177.50,310.10 196.10,311.40 218.90,312.80 239.90,315.40 257.40,317.70 269.30,320.60 278.40,322.90" fill="none" stroke="#f7a6c6" stroke-width="1" stroke-linejoin="round" stroke-linecap="round" />
<polyline points="102.40,324.70 137.80,327.10 169.80,330.30 201.90,332.60 226.90,334.30" fill="none" stroke="#ffd0a0" stroke-width="1" stroke-linejoin="round" stroke-linecap="round" />
<polyline points="97.20,328.90 126.10,335.20 169.70,340.30 201.90,347.80 232.50,350.90" fill="none" stroke="#7cc6ea" stroke-width="1" stroke-linejoin="round" stroke-linecap="round" />
<polyline points="101.50,340.30 134.30,344.30 183.30,348.70 211.50,352.70 243.00,353.90" fill="none" stroke="#88d49c" stroke-width="1" stroke-linejoin="round" stroke-linecap="round" />
<polyline points="86.10,345.70 116.80,346.90 170.20,349.00 201.00,350.90 232.20,353.00" fill="none" stroke="#7090d8" stroke-width="1" stroke-linejoin="round" stroke-linecap="round" />
<rect x="98.90" y="302.80" width="6.60" height="6.60" fill="#f45e9e"/>
<rect x="118.40" y="303.90" width="6.60" height="6.60" fill="#f45e9e"/>
<rect x="142.00" y="304.90" width="6.60" height="6.60" fill="#f45e9e"/>
<rect x="157.80" y="305.60" width="6.60" height="6.60" fill="#f45e9e"/>
<rect x="174.20" y="306.80" width="6.60" height="6.60" fill="#f45e9e"/>
<rect x="192.80" y="308.10" width="6.60" height="6.60" fill="#f45e9e"/>
<rect x="215.60" y="309.50" width="6.60" height="6.60" fill="#f45e9e"/>
<rect x="236.60" y="312.10" width="6.60" height="6.60" fill="#f45e9e"/>
<rect x="254.10" y="314.40" width="6.60" height="6.60" fill="#f45e9e"/>
<rect x="266.00" y="317.30" width="6.60" height="6.60" fill="#f45e9e"/>
<rect x="275.10" y="319.60" width="6.60" height="6.60" fill="#f45e9e"/>
<path d="M102.40,321.10 L106.30,327.80 L98.50,327.80 Z" fill="#ffa040"/>
<path d="M137.80,323.50 L141.70,330.20 L133.90,330.20 Z" fill="#ffa040"/>
<path d="M169.80,326.70 L173.70,333.40 L165.90,333.40 Z" fill="#ffa040"/>
<path d="M201.90,329.00 L205.80,335.70 L198.00,335.70 Z" fill="#ffa040"/>
<path d="M226.90,330.70 L230.80,337.40 L223.00,337.40 Z" fill="#ffa040"/>
<circle cx="97.20" cy="328.90" r="3.3" fill="#2a9fd6"/>
<circle cx="126.10" cy="335.20" r="3.3" fill="#2a9fd6"/>
<circle cx="169.70" cy="340.30" r="3.3" fill="#2a9fd6"/>
<circle cx="201.90" cy="347.80" r="3.3" fill="#2a9fd6"/>
<circle cx="232.50" cy="350.90" r="3.3" fill="#2a9fd6"/>
<path d="M101.50,343.90 L105.40,337.20 L97.60,337.20 Z" fill="#1a9c3c"/>
<path d="M134.30,347.90 L138.20,341.20 L130.40,341.20 Z" fill="#1a9c3c"/>
<path d="M183.30,352.30 L187.20,345.60 L179.40,345.60 Z" fill="#1a9c3c"/>
<path d="M211.50,356.30 L215.40,349.60 L207.60,349.60 Z" fill="#1a9c3c"/>
<path d="M243.00,357.50 L246.90,350.80 L239.10,350.80 Z" fill="#1a9c3c"/>
<path d="M82.50,345.70 L89.20,341.80 L89.20,349.60 Z" fill="#1f4fbf"/>
<path d="M113.20,346.90 L119.90,343.00 L119.90,350.80 Z" fill="#1f4fbf"/>
<path d="M166.60,349.00 L173.30,345.10 L173.30,352.90 Z" fill="#1f4fbf"/>
<path d="M197.40,350.90 L204.10,347.00 L204.10,354.80 Z" fill="#1f4fbf"/>
<path d="M228.60,353.00 L235.30,349.10 L235.30,356.90 Z" fill="#1f4fbf"/>
<line x1="68.50" y1="373.30" x2="88.00" y2="373.30" stroke="#f7a6c6" stroke-width="1" />
<rect x="75.00" y="370.00" width="6.60" height="6.60" fill="#f45e9e"/>
<text x="91.60" y="376.00" font-family="&quot;Liberation Sans&quot;, sans-serif" font-weight="bold" font-size="11.3" text-anchor="start" fill="#000" >This study</text>
<line x1="68.50" y1="387.65" x2="88.00" y2="387.65" stroke="#ffd0a0" stroke-width="1" />
<path d="M78.30,384.05 L82.20,390.75 L74.40,390.75 Z" fill="#ffa040"/>
<text x="91.60" y="390.35" font-family="&quot;Liberation Sans&quot;, sans-serif" font-weight="bold" font-size="11.3" text-anchor="start" fill="#000" >CNS4//AC</text>
<line x1="68.50" y1="402.00" x2="88.00" y2="402.00" stroke="#7090d8" stroke-width="1" />
<path d="M74.70,402.00 L81.40,398.10 L81.40,405.90 Z" fill="#1f4fbf"/>
<text x="91.60" y="404.70" font-family="&quot;Liberation Sans&quot;, sans-serif" font-weight="bold" font-size="11.3" text-anchor="start" fill="#000" >AMC//PdCS</text>
<line x1="68.50" y1="416.35" x2="88.00" y2="416.35" stroke="#88d49c" stroke-width="1" />
<path d="M78.30,419.95 L82.20,413.25 L74.40,413.25 Z" fill="#1a9c3c"/>
<text x="91.60" y="419.05" font-family="&quot;Liberation Sans&quot;, sans-serif" font-weight="bold" font-size="11.3" text-anchor="start" fill="#000" >CoO-rGO//HCN</text>
<line x1="68.50" y1="430.70" x2="88.00" y2="430.70" stroke="#7cc6ea" stroke-width="1" />
<circle cx="78.30" cy="430.70" r="3.3" fill="#2a9fd6"/>
<text x="91.60" y="433.40" font-family="&quot;Liberation Sans&quot;, sans-serif" font-weight="bold" font-size="11.3" text-anchor="start" fill="#000" >NOPCNS//HPC-800</text>
<rect x="66.00" y="264.10" width="239.80" height="177.00" fill="none" stroke="#000" stroke-width="2.3" stroke-linejoin="round"/>
<text x="190.80" y="482.30" font-family="&quot;Liberation Sans&quot;, sans-serif" font-weight="bold" font-size="16.5" text-anchor="middle" fill="#000" >Specific Power (W Kg<tspan dy="-5.5" font-size="10.5">-1</tspan><tspan dy="5.5">)</tspan></text>
<text transform="translate(32.2,352.4) rotate(-90)" font-family="&quot;Liberation Sans&quot;, sans-serif" font-weight="bold" font-size="16.5" text-anchor="middle">Specific Energy (W h Kg<tspan dy="-5" font-size="10.5">-1</tspan><tspan dy="5">)</tspan></text>
<line x1="386.80" y1="441.70" x2="391.00" y2="441.70" stroke="#000" stroke-width="1.6" />
<text x="385.30" y="446.00" font-family="&quot;Liberation Sans&quot;, sans-serif" font-weight="bold" font-size="14.8" text-anchor="end" fill="#000" >0</text>
<line x1="388.00" y1="426.89" x2="391.00" y2="426.89" stroke="#000" stroke-width="1.4" />
<line x1="386.80" y1="412.08" x2="391.00" y2="412.08" stroke="#000" stroke-width="1.6" />
<text x="385.30" y="416.38" font-family="&quot;Liberation Sans&quot;, sans-serif" font-weight="bold" font-size="14.8" text-anchor="end" fill="#000" >20</text>
<line x1="388.00" y1="397.28" x2="391.00" y2="397.28" stroke="#000" stroke-width="1.4" />
<line x1="386.80" y1="382.47" x2="391.00" y2="382.47" stroke="#000" stroke-width="1.6" />
<text x="385.30" y="386.77" font-family="&quot;Liberation Sans&quot;, sans-serif" font-weight="bold" font-size="14.8" text-anchor="end" fill="#000" >40</text>
<line x1="388.00" y1="367.66" x2="391.00" y2="367.66" stroke="#000" stroke-width="1.4" />
<line x1="386.80" y1="352.85" x2="391.00" y2="352.85" stroke="#000" stroke-width="1.6" />
<text x="385.30" y="357.15" font-family="&quot;Liberation Sans&quot;, sans-serif" font-weight="bold" font-size="14.8" text-anchor="end" fill="#000" >60</text>
<line x1="388.00" y1="338.04" x2="391.00" y2="338.04" stroke="#000" stroke-width="1.4" />
<line x1="386.80" y1="323.24" x2="391.00" y2="323.24" stroke="#000" stroke-width="1.6" />
<text x="385.30" y="327.54" font-family="&quot;Liberation Sans&quot;, sans-serif" font-weight="bold" font-size="14.8" text-anchor="end" fill="#000" >80</text>
<line x1="388.00" y1="308.43" x2="391.00" y2="308.43" stroke="#000" stroke-width="1.4" />
<line x1="386.80" y1="293.62" x2="391.00" y2="293.62" stroke="#000" stroke-width="1.6" />
<text x="385.30" y="297.92" font-family="&quot;Liberation Sans&quot;, sans-serif" font-weight="bold" font-size="14.8" text-anchor="end" fill="#000" >100</text>
<line x1="388.00" y1="278.81" x2="391.00" y2="278.81" stroke="#000" stroke-width="1.4" />
<line x1="386.80" y1="264.00" x2="391.00" y2="264.00" stroke="#000" stroke-width="1.6" />
<text x="385.30" y="268.30" font-family="&quot;Liberation Sans&quot;, sans-serif" font-weight="bold" font-size="14.8" text-anchor="end" fill="#000" >120</text>
<line x1="632.00" y1="441.70" x2="636.20" y2="441.70" stroke="#000" stroke-width="1.6" />
<text x="637" y="446.10" font-family="&quot;Liberation Sans&quot;, sans-serif" font-size="15" stroke="#000" stroke-width="0.45">50</text>
<line x1="632.00" y1="419.49" x2="635.00" y2="419.49" stroke="#000" stroke-width="1.4" />
<line x1="632.00" y1="397.27" x2="636.20" y2="397.27" stroke="#000" stroke-width="1.6" />
<text x="637" y="401.67" font-family="&quot;Liberation Sans&quot;, sans-serif" font-size="15" stroke="#000" stroke-width="0.45">75</text>
<line x1="632.00" y1="375.06" x2="635.00" y2="375.06" stroke="#000" stroke-width="1.4" />
<line x1="632.00" y1="352.85" x2="636.20" y2="352.85" stroke="#000" stroke-width="1.6" />
<text x="637" y="357.25" font-family="&quot;Liberation Sans&quot;, sans-serif" font-size="15" stroke="#000" stroke-width="0.45">100</text>
<line x1="632.00" y1="330.64" x2="635.00" y2="330.64" stroke="#000" stroke-width="1.4" />
<line x1="632.00" y1="308.42" x2="636.20" y2="308.42" stroke="#000" stroke-width="1.6" />
<text x="637" y="312.82" font-family="&quot;Liberation Sans&quot;, sans-serif" font-size="15" stroke="#000" stroke-width="0.45">125</text>
<line x1="632.00" y1="286.21" x2="635.00" y2="286.21" stroke="#000" stroke-width="1.4" />
<line x1="632.00" y1="264.00" x2="636.20" y2="264.00" stroke="#000" stroke-width="1.6" />
<text x="637" y="268.40" font-family="&quot;Liberation Sans&quot;, sans-serif" font-size="15" stroke="#000" stroke-width="0.45">150</text>
<line x1="391.00" y1="441.70" x2="391.00" y2="445.90" stroke="#000" stroke-width="1.6" />
<text x="391.00" y="458.90" font-family="&quot;Liberation Sans&quot;, sans-serif" font-weight="bold" font-size="14.8" text-anchor="middle" fill="#000" >0</text>
<line x1="415.10" y1="441.70" x2="415.10" y2="444.70" stroke="#000" stroke-width="1.4" />
<line x1="439.20" y1="441.70" x2="439.20" y2="445.90" stroke="#000" stroke-width="1.6" />
<text x="439.20" y="458.90" font-family="&quot;Liberation Sans&quot;, sans-serif" font-weight="bold" font-size="14.8" text-anchor="middle" fill="#000" >400</text>
<line x1="463.30" y1="441.70" x2="463.30" y2="444.70" stroke="#000" stroke-width="1.4" />
<line x1="487.40" y1="441.70" x2="487.40" y2="445.90" stroke="#000" stroke-width="1.6" />
<text x="487.40" y="458.90" font-family="&quot;Liberation Sans&quot;, sans-serif" font-weight="bold" font-size="14.8" text-anchor="middle" fill="#000" >800</text>
<line x1="511.50" y1="441.70" x2="511.50" y2="444.70" stroke="#000" stroke-width="1.4" />
<line x1="535.60" y1="441.70" x2="535.60" y2="445.90" stroke="#000" stroke-width="1.6" />
<text x="535.60" y="458.90" font-family="&quot;Liberation Sans&quot;, sans-serif" font-weight="bold" font-size="14.8" text-anchor="middle" fill="#000" >1200</text>
<line x1="559.70" y1="441.70" x2="559.70" y2="444.70" stroke="#000" stroke-width="1.4" />
<line x1="583.80" y1="441.70" x2="583.80" y2="445.90" stroke="#000" stroke-width="1.6" />
<text x="583.80" y="458.90" font-family="&quot;Liberation Sans&quot;, sans-serif" font-weight="bold" font-size="14.8" text-anchor="middle" fill="#000" >1600</text>
<line x1="607.90" y1="441.70" x2="607.90" y2="444.70" stroke="#000" stroke-width="1.4" />
<line x1="632.00" y1="441.70" x2="632.00" y2="445.90" stroke="#000" stroke-width="1.6" />
<text x="632.00" y="458.90" font-family="&quot;Liberation Sans&quot;, sans-serif" font-weight="bold" font-size="14.8" text-anchor="middle" fill="#000" >2000</text>
<path d="M391.14,294.66 L392.30,295.02 L393.46,295.38 L394.62,295.73 L395.79,296.08 L396.95,296.42 L398.11,296.75 L399.28,297.08 L400.45,297.41 L401.62,297.73 L402.79,298.04 L403.96,298.34 L405.13,298.65 L406.30,298.94 L407.48,299.23 L408.65,299.52 L409.83,299.80 L411.01,300.08 L412.19,300.35 L413.37,300.62 L414.55,300.88 L415.73,301.13 L416.91,301.39 L418.10,301.63 L419.28,301.88 L420.47,302.12 L421.65,302.35 L422.84,302.58 L424.03,302.81 L425.22,303.03 L426.41,303.24 L427.60,303.46 L428.79,303.67 L429.99,303.87 L431.18,304.08 L432.37,304.27 L433.57,304.47 L434.76,304.66 L435.96,304.85 L437.16,305.03 L438.36,305.21 L439.55,305.39 L440.75,305.56 L441.95,305.73 L443.15,305.90 L444.36,306.06 L445.56,306.22 L446.76,306.38 L447.96,306.54 L449.17,306.69 L450.37,306.84 L451.58,306.99 L452.78,307.13 L453.99,307.27 L455.19,307.41 L456.40,307.55 L457.61,307.68 L458.81,307.82 L460.02,307.95 L461.23,308.08 L462.44,308.20 L463.65,308.33 L464.85,308.45 L466.06,308.57 L467.27,308.69 L468.48,308.81 L469.69,308.92 L470.90,309.03 L472.11,309.15 L473.33,309.26 L474.54,309.37 L475.75,309.47 L476.96,309.58 L478.17,309.69 L479.38,309.79 L480.59,309.89 L481.81,310.00 L483.02,310.10 L484.23,310.20 L485.44,310.30 L486.66,310.39 L487.87,310.49 L489.08,310.59 L490.29,310.68 L491.51,310.77 L492.72,310.87 L493.93,310.96 L495.15,311.05 L496.36,311.14 L497.57,311.23 L498.79,311.31 L500.00,311.40 L501.22,311.49 L502.43,311.57 L503.64,311.66 L504.86,311.74 L506.07,311.82 L507.29,311.91 L508.50,311.99 L509.72,312.07 L510.93,312.15 L512.14,312.23 L513.36,312.31 L514.57,312.38 L515.79,312.46 L517.00,312.54 L518.22,312.62 L519.43,312.69 L520.65,312.77 L521.86,312.84 L523.08,312.92 L524.29,312.99 L525.51,313.06 L526.72,313.14 L527.94,313.21 L529.15,313.28 L530.37,313.35 L531.58,313.42 L532.80,313.50 L534.01,313.57 L535.23,313.64 L536.45,313.71 L537.66,313.78 L538.88,313.85 L540.09,313.92 L541.31,313.99 L542.52,314.06 L543.74,314.13 L544.95,314.20 L546.17,314.26 L547.38,314.33 L548.60,314.40 L549.81,314.47 L551.03,314.54 L552.24,314.61 L553.45,314.68 L554.67,314.75 L555.88,314.82 L557.10,314.89 L558.31,314.95 L559.53,315.02 L560.74,315.09 L561.96,315.16 L563.17,315.23 L564.38,315.30 L565.60,315.37 L566.81,315.44 L568.03,315.51 L569.24,315.59 L570.45,315.66 L571.67,315.73 L572.88,315.80 L574.09,315.87 L575.31,315.95 L576.52,316.02 L577.73,316.09 L578.95,316.17 L580.16,316.24 L581.37,316.32 L582.58,316.39 L583.80,316.47 L585.01,316.55 L586.22,316.62 L587.43,316.70 L588.64,316.78 L589.86,316.86 L591.07,316.94 L592.28,317.02 L593.49,317.10 L594.70,317.18 L595.91,317.27 L597.12,317.35 L598.33,317.43 L599.54,317.52 L600.75,317.60 L601.96,317.69 L603.17,317.78 L604.38,317.87 L605.59,317.95 L606.80,318.05 L608.01,318.14 L609.22,318.23 L610.43,318.32 L611.63,318.42 L612.84,318.51 L614.05,318.61 L615.26,318.70 L616.46,318.80 L617.67,318.90 L618.88,319.00 L620.09,319.10 L621.29,319.21 L622.50,319.31 L623.70,319.41 L624.91,319.52 L626.12,319.63 L627.32,319.74 L628.53,319.85 L629.73,319.96 L630.93,320.07" fill="none" stroke="#5000a8" stroke-width="4.4" stroke-linejoin="round"/>
<path d="M393.4,282.4 L398.6,276.9 L398.6,279.8 L412.8,279.8 L412.8,297.7 L407.3,297.7 L407.3,285 L398.6,285 L398.6,288 Z" fill="#5000a8"/>
<line x1="391.50" y1="354.30" x2="632.00" y2="355.50" stroke="#1c99cc" stroke-width="3.6" />
<line x1="392.50" y1="351.00" x2="392.50" y2="356.00" stroke="#1c99cc" stroke-width="2" />
<path d="M631,373.7 L626.4,368.7 L626.4,371.2 L617.4,371.2 L617.4,354 L612.3,354 L612.3,376.1 L626.4,376.1 L626.4,378.6 Z" fill="#1c99cc"/>
<text x="449.30" y="379.40" font-family="&quot;Liberation Sans&quot;, sans-serif" font-weight="bold" font-size="12.8" text-anchor="start" fill="#000" >Scan</text>
<text x="484.20" y="379.40" font-family="&quot;Liberation Sans&quot;, sans-serif" font-weight="bold" font-size="12.8" text-anchor="start" fill="#000" >rate</text>
<text x="512.20" y="379.40" font-family="&quot;Liberation Sans&quot;, sans-serif" font-weight="bold" font-size="12.8" text-anchor="start" fill="#000" >:</text>
<text x="519.90" y="379.40" font-family="&quot;Liberation Sans&quot;, sans-serif" font-weight="bold" font-size="12.8" text-anchor="start" fill="#000" >2</text>
<text x="530.90" y="379.40" font-family="&quot;Liberation Sans&quot;, sans-serif" font-weight="bold" font-size="12.8" text-anchor="start" fill="#000" >A</text>
<text x="543.40" y="379.40" font-family="&quot;Liberation Sans&quot;, sans-serif" font-weight="bold" font-size="12.8" text-anchor="start" fill="#000" >g</text>
<text x="551.80" y="374.20" font-family="&quot;Liberation Sans&quot;, sans-serif" font-weight="bold" font-size="8.4" text-anchor="start" fill="#000" >-1</text>
<rect x="391.00" y="264.00" width="241.00" height="177.70" fill="none" stroke="#000" stroke-width="2.3" stroke-linejoin="round"/>
<text x="513.30" y="482.40" font-family="&quot;Liberation Sans&quot;, sans-serif" font-weight="bold" font-size="16.5" text-anchor="middle" fill="#000" >Cycle number (n)</text>
<text transform="translate(354,352.9) rotate(-90)" font-family="&quot;Liberation Sans&quot;, sans-serif" font-weight="bold" font-size="16.5" text-anchor="middle">Capacity Retention (%)</text>
<text transform="translate(680.5,355.4) rotate(-90)" font-family="&quot;Liberation Sans&quot;, sans-serif" font-weight="bold" font-size="16.5" text-anchor="middle">Coulombic Efficiency (%)</text></svg>
</div></body></html>
